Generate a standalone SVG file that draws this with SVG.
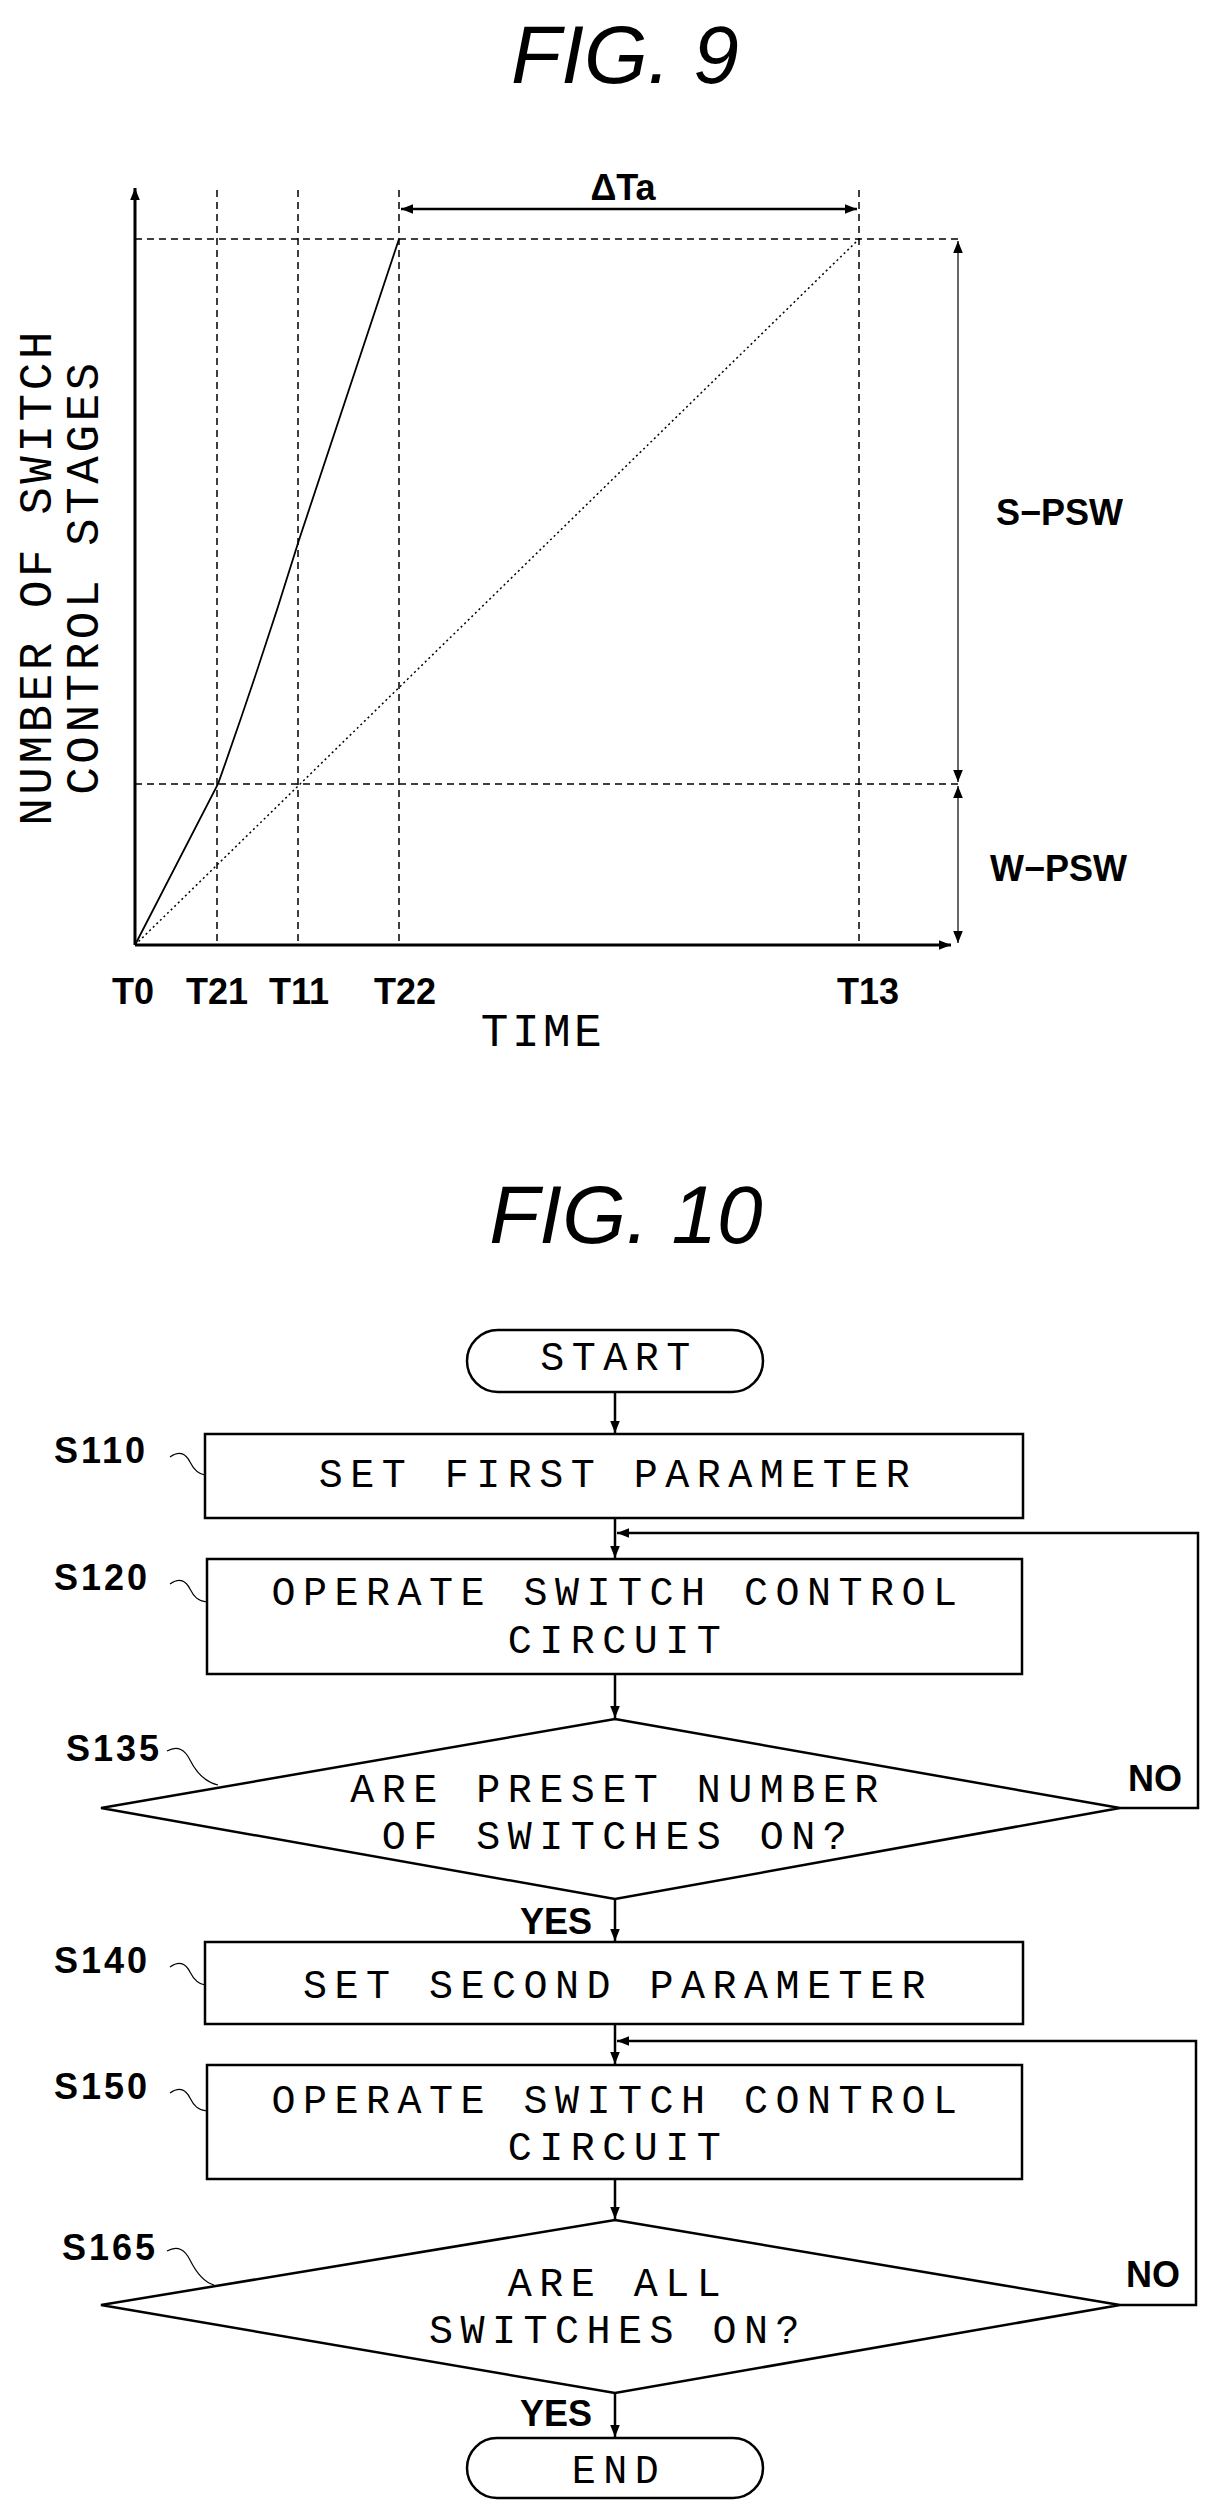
<svg xmlns="http://www.w3.org/2000/svg" width="1219" height="2520" viewBox="0 0 1219 2520">
<style>
.t{font-family:"Liberation Sans",Arial,sans-serif;font-style:italic;font-size:82px;text-anchor:middle}
.lb{font-family:"Liberation Sans",Arial,sans-serif;font-weight:bold;font-size:36px}
.st{font-family:"Liberation Sans",Arial,sans-serif;font-weight:bold;font-size:36px;letter-spacing:3px}
.m{font-family:"Liberation Mono","DejaVu Sans Mono",monospace;font-size:40px;letter-spacing:7.5px;text-anchor:middle}
.ml{font-family:"Liberation Mono","DejaVu Sans Mono",monospace;font-size:46px;letter-spacing:3.5px;text-anchor:middle}
.b{fill:#fff;stroke:#000;stroke-width:2.5}
.c{fill:none;stroke:#000;stroke-width:2.5}
.d{fill:none;stroke:#000;stroke-width:1.5;stroke-dasharray:7,5}
.s{fill:none;stroke:#000;stroke-width:1.2}
</style>
<defs>
<marker id="a" viewBox="0 0 10 10" refX="10" refY="5" markerWidth="12" markerHeight="12" markerUnits="userSpaceOnUse" orient="auto-start-reverse"><path d="M0,1 L10,5 L0,9 z" fill="#000"/></marker>
</defs>
<text class="t" x="625" y="83">FIG. 9</text>
<g id="chart">
<line class="d" x1="217" y1="190" x2="217" y2="945"/>
<line class="d" x1="298" y1="190" x2="298" y2="945"/>
<line class="d" x1="399" y1="190" x2="399" y2="945"/>
<line class="d" x1="859" y1="190" x2="859" y2="945" stroke-width="1"/>
<line class="d" x1="135" y1="239" x2="960" y2="239" stroke-width="1"/>
<line class="d" x1="135" y1="784" x2="960" y2="784"/>
<line x1="135" y1="945" x2="135" y2="188" stroke="#000" stroke-width="3" marker-end="url(#a)"/>
<line x1="135" y1="945" x2="951" y2="945" stroke="#000" stroke-width="3" marker-end="url(#a)"/>
<path d="M135,945 L218,784 Q262,660 299,540 L399,239" fill="none" stroke="#000" stroke-width="1.8"/>
<line x1="135" y1="945" x2="859" y2="239" stroke="#000" stroke-width="1.5" stroke-dasharray="2,3"/>
<line x1="401" y1="209" x2="857" y2="209" stroke="#000" stroke-width="2.5" marker-start="url(#a)" marker-end="url(#a)"/>
<line x1="958" y1="241" x2="958" y2="782" stroke="#000" stroke-width="1.2" marker-start="url(#a)" marker-end="url(#a)"/>
<line x1="958" y1="786" x2="958" y2="943" stroke="#000" stroke-width="1.2" marker-start="url(#a)" marker-end="url(#a)"/>
<text class="lb" x="623" y="200" text-anchor="middle">ΔTa</text>
<text class="lb" x="996" y="525">S−PSW</text>
<text class="lb" x="990" y="881">W−PSW</text>
<text class="lb" x="133" y="1004" text-anchor="middle">T0</text>
<text class="lb" x="217" y="1004" text-anchor="middle">T21</text>
<text class="lb" x="299" y="1004" text-anchor="middle">T11</text>
<text class="lb" x="405" y="1004" text-anchor="middle">T22</text>
<text class="lb" x="868" y="1004" text-anchor="middle">T13</text>
<text class="ml" x="543" y="1046">TIME</text>
<text class="ml" transform="translate(51,577) rotate(-90)">NUMBER OF SWITCH</text>
<text class="ml" transform="translate(98,577) rotate(-90)">CONTROL STAGES</text>
</g>
<text class="t" x="626" y="1243">FIG. 10</text>
<g id="start"><rect class="b" x="467" y="1330" width="296" height="62" rx="31"/><text class="m" x="619" y="1370">START</text></g>
<g id="s110"><rect class="b" x="205" y="1434" width="818" height="84"/><text class="m" x="618" y="1487">SET FIRST PARAMETER</text><text class="st" x="54" y="1463">S110</text><path class="s" d="M170,1457 C180,1450 186,1454 190,1462 C194,1470 198,1474 205,1475"/></g>
<g id="s120"><rect class="b" x="207" y="1559" width="815" height="115"/><text class="m" x="618" y="1605">OPERATE SWITCH CONTROL</text><text class="m" x="618" y="1653">CIRCUIT</text><text class="st" x="54" y="1590">S120</text><path class="s" d="M170,1584 C180,1577 186,1581 190,1589 C194,1597 198,1601 207,1602"/></g>
<g id="s135"><polygon class="b" points="615,1719 1120,1808 615,1899 101,1808"/><text class="m" x="618" y="1802">ARE PRESET NUMBER</text><text class="m" x="618" y="1849">OF SWITCHES ON?</text><text class="st" x="66" y="1761">S135</text><path class="s" d="M167,1751 C178,1745 185,1750 190,1760 C196,1772 205,1782 218,1785"/></g>
<g id="s140"><rect class="b" x="205" y="1942" width="818" height="82"/><text class="m" x="618" y="1998">SET SECOND PARAMETER</text><text class="st" x="54" y="1973">S140</text><path class="s" d="M170,1967 C180,1960 186,1964 190,1972 C194,1980 198,1984 205,1985"/></g>
<g id="s150"><rect class="b" x="207" y="2065" width="815" height="114"/><text class="m" x="618" y="2113">OPERATE SWITCH CONTROL</text><text class="m" x="618" y="2160">CIRCUIT</text><text class="st" x="54" y="2099">S150</text><path class="s" d="M170,2093 C180,2086 186,2090 190,2098 C194,2106 198,2110 207,2111"/></g>
<g id="s165"><polygon class="b" points="615,2220 1120,2305 615,2393 101,2305"/><text class="m" x="618" y="2296">ARE ALL</text><text class="m" x="618" y="2343">SWITCHES ON?</text><text class="st" x="62" y="2260">S165</text><path class="s" d="M167,2251 C178,2245 185,2250 190,2260 C196,2272 203,2282 214,2285"/></g>
<g id="end"><rect class="b" x="467" y="2438" width="296" height="60" rx="30"/><text class="m" x="619" y="2483">END</text></g>
<g id="connectors">
<line class="c" x1="615" y1="1392" x2="615" y2="1433" marker-end="url(#a)"/>
<line class="c" x1="615" y1="1518" x2="615" y2="1558" marker-end="url(#a)"/>
<line class="c" x1="615" y1="1674" x2="615" y2="1718" marker-end="url(#a)"/>
<line class="c" x1="615" y1="1899" x2="615" y2="1941" marker-end="url(#a)"/>
<line class="c" x1="615" y1="2024" x2="615" y2="2064" marker-end="url(#a)"/>
<line class="c" x1="615" y1="2179" x2="615" y2="2219" marker-end="url(#a)"/>
<line class="c" x1="615" y1="2393" x2="615" y2="2437" marker-end="url(#a)"/>
<polyline class="c" points="1120,1808 1198,1808 1198,1533 617,1533" marker-end="url(#a)"/>
<polyline class="c" points="1120,2305 1196,2305 1196,2041 617,2041" marker-end="url(#a)"/>
<text class="lb" x="1128" y="1791">NO</text>
<text class="lb" x="1126" y="2287">NO</text>
<text class="lb" x="556" y="1934" text-anchor="middle">YES</text>
<text class="lb" x="556" y="2426" text-anchor="middle">YES</text>
</g>
</svg>
